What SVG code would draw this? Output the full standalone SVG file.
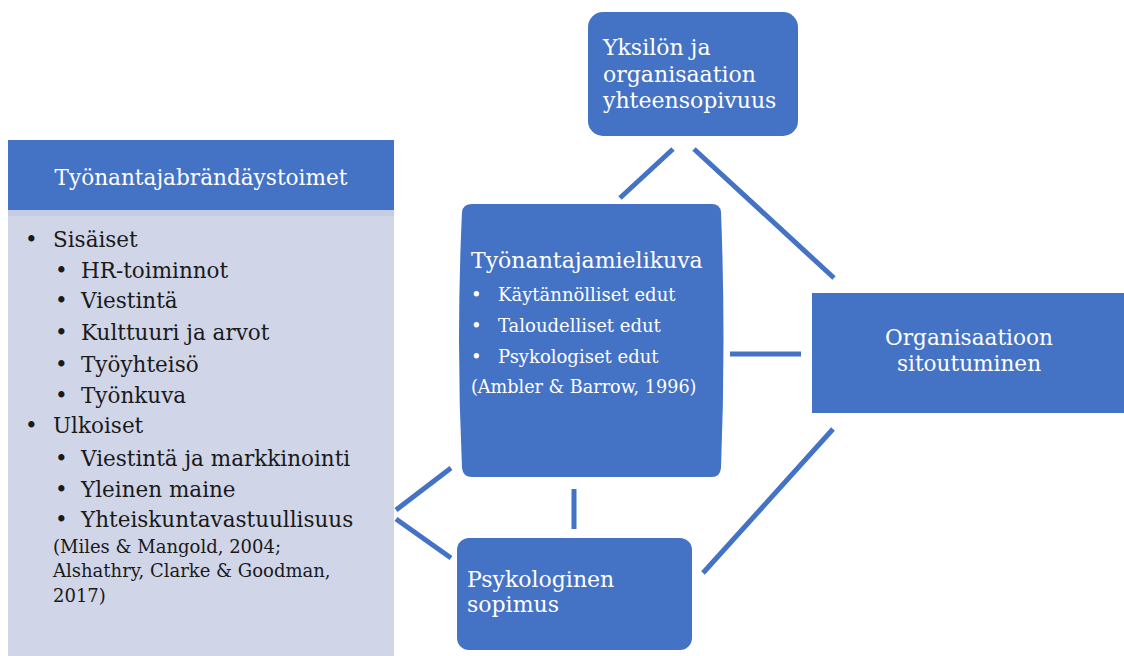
<svg xmlns="http://www.w3.org/2000/svg" width="1124" height="656" viewBox="0 0 1124 656">
<style>
.blue{fill:#4472C4}
.wt{fill:#ffffff;font-family:"DejaVu Serif","Liberation Serif",serif}
.bk{fill:#1a1a1a;font-family:"DejaVu Serif","Liberation Serif",serif}
.conn line{stroke:#4472C4;stroke-width:5;stroke-linecap:butt}
</style>
<rect width="1124" height="656" fill="#ffffff"/>
<g id="tyonantajabrandaystoimet">
<rect x="8" y="210" width="386" height="446" fill="#D0D5E8"/>
<rect x="8" y="210" width="386" height="6" fill="#C6CCE4"/>
<rect class="blue" x="8" y="140" width="386" height="70"/>
<text class="wt" x="201" y="185" font-size="21.6" text-anchor="middle">Työnantajabrändäystoimet</text>
<g class="bk" font-size="21.5">
<text x="25" y="247">•</text><text x="53" y="247">Sisäiset</text>
<text x="55" y="278">•</text><text x="81" y="278">HR-toiminnot</text>
<text x="55" y="308">•</text><text x="81" y="308">Viestintä</text>
<text x="55" y="340">•</text><text x="81" y="340">Kulttuuri ja arvot</text>
<text x="55" y="372">•</text><text x="81" y="372">Työyhteisö</text>
<text x="55" y="403">•</text><text x="81" y="403">Työnkuva</text>
<text x="25" y="433">•</text><text x="53" y="433">Ulkoiset</text>
<text x="55" y="466">•</text><text x="81" y="466">Viestintä ja markkinointi</text>
<text x="55" y="497">•</text><text x="81" y="497">Yleinen maine</text>
<text x="55" y="527">•</text><text x="81" y="527">Yhteiskuntavastuullisuus</text>
</g>
<g class="bk" font-size="18">
<text x="53" y="553">(Miles &amp; Mangold, 2004;</text>
<text x="53" y="577">Alshathry, Clarke &amp; Goodman,</text>
<text x="53" y="602">2017)</text>
</g>
</g>
<g class="conn">
<line x1="673" y1="149" x2="620" y2="198"/>
<line x1="694" y1="149" x2="834" y2="278"/>
<line x1="730" y1="354" x2="801" y2="354"/>
<line x1="833" y1="429" x2="703" y2="573"/>
<line x1="396" y1="510" x2="451" y2="468"/>
<line x1="396" y1="519" x2="451" y2="558"/>
<line x1="574" y1="489" x2="574" y2="529"/>
</g>
<g id="yksilon">
<rect class="blue" x="588" y="12" width="210" height="124" rx="15"/>
<g class="wt" font-size="22">
<text x="603" y="55">Yksilön ja</text>
<text x="603" y="82">organisaation</text>
<text x="603" y="108">yhteensopivuus</text>
</g>
</g>
<g id="tyonantajamielikuva">
<path class="blue" d="M472,204 L712,204 Q720,204 721,212 Q726,340 721,468 Q720,477 712,477 L472,477 Q463,477 462,468 Q456,340 462,212 Q463,204 472,204 Z"/>
<text class="wt" x="471" y="268" font-size="22">Työnantajamielikuva</text>
<g class="wt" font-size="18">
<text x="471" y="301">•</text><text x="498" y="301">Käytännölliset edut</text>
<text x="471" y="332">•</text><text x="498" y="332">Taloudelliset edut</text>
<text x="471" y="363">•</text><text x="498" y="363">Psykologiset edut</text>
<text x="471" y="393" font-size="17.6">(Ambler &amp; Barrow, 1996)</text>
</g>
</g>
<g id="sitoutuminen">
<rect class="blue" x="812" y="293" width="312" height="120"/>
<g class="wt" font-size="21.6" text-anchor="middle">
<text x="969" y="345">Organisaatioon</text>
<text x="969" y="371">sitoutuminen</text>
</g>
</g>
<g id="sopimus">
<rect class="blue" x="457" y="538" width="235" height="112" rx="12"/>
<g class="wt" font-size="22">
<text x="467" y="587">Psykologinen</text>
<text x="467" y="612">sopimus</text>
</g>
</g>
</svg>
